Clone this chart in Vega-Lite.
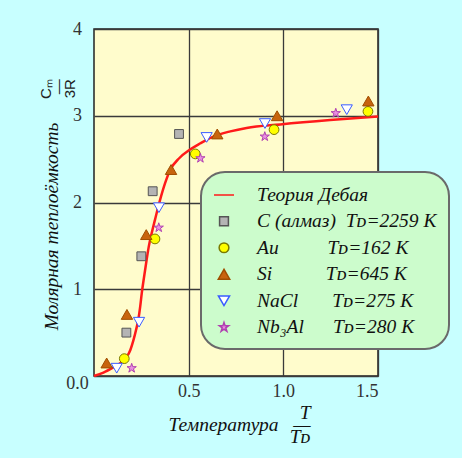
{
  "$schema": "https://vega.github.io/schema/vega-lite/v6.json",
  "autosize": {"type": "none"},
  "width": 284,
  "height": 347,
  "padding": {"left": 94, "top": 29, "right": 84, "bottom": 82},
  "background": "#c8ffff",
  "title": {
    "text": ["Cₘ", "—", "3R"],
    "orient": "top",
    "anchor": "start",
    "frame": "group",
    "angle": 270,
    "align": "right",
    "baseline": "middle",
    "font": "Liberation Sans, Arial, sans-serif",
    "fontSize": 15,
    "fontWeight": "normal",
    "lineHeight": 12,
    "offset": 0,
    "dx": -79,
    "dy": -48,
    "color": "#222222"
  },
  "config": {
    "view": {"fill": "#fffccc", "stroke": "#222222", "strokeWidth": 1.5},
    "axis": {
      "grid": true,
      "gridColor": "#3a3a3a",
      "gridWidth": 1.3,
      "gridOpacity": 1,
      "ticks": false,
      "domain": false,
      "labelFont": "Liberation Serif, Times New Roman, serif",
      "labelFontSize": 18,
      "labelColor": "#333333",
      "titleFont": "Liberation Serif, Times New Roman, serif",
      "titleFontSize": 19.5,
      "titleFontStyle": "italic",
      "titleFontWeight": "normal",
      "titleColor": "#111111"
    },
    "legend": {
      "orient": "none",
      "legendX": 107,
      "legendY": 143,
      "title": null,
      "fillColor": "#ccfccc",
      "strokeColor": "#6a6a6a",
      "strokeWidth": 2,
      "cornerRadius": 24,
      "padding": 12,
      "labelFont": "Liberation Serif, Times New Roman, serif",
      "labelFontStyle": "italic",
      "labelFontSize": 19.5,
      "labelColor": "#111111",
      "labelOffset": 22,
      "labelLimit": 400,
      "rowPadding": 5.5
    }
  },
  "datasets": {
    "curve": [
      {"x": 0, "y": 0, "series": "Теория Дебая"},
      {"x": 0.05, "y": 0.04, "series": "Теория Дебая"},
      {"x": 0.102, "y": 0.1, "series": "Теория Дебая"},
      {"x": 0.14, "y": 0.15, "series": "Теория Дебая"},
      {"x": 0.173, "y": 0.22, "series": "Теория Дебая"},
      {"x": 0.192, "y": 0.3, "series": "Теория Дебая"},
      {"x": 0.208, "y": 0.41, "series": "Теория Дебая"},
      {"x": 0.222, "y": 0.53, "series": "Теория Дебая"},
      {"x": 0.234, "y": 0.65, "series": "Теория Дебая"},
      {"x": 0.244, "y": 0.8, "series": "Теория Дебая"},
      {"x": 0.252, "y": 0.95, "series": "Теория Дебая"},
      {"x": 0.265, "y": 1.15, "series": "Теория Дебая"},
      {"x": 0.278, "y": 1.34, "series": "Теория Дебая"},
      {"x": 0.29, "y": 1.5, "series": "Теория Дебая"},
      {"x": 0.305, "y": 1.65, "series": "Теория Дебая"},
      {"x": 0.322, "y": 1.8, "series": "Теория Дебая"},
      {"x": 0.349, "y": 2.03, "series": "Теория Дебая"},
      {"x": 0.375, "y": 2.22, "series": "Теория Дебая"},
      {"x": 0.401, "y": 2.37, "series": "Теория Дебая"},
      {"x": 0.45, "y": 2.51, "series": "Теория Дебая"},
      {"x": 0.507, "y": 2.61, "series": "Теория Дебая"},
      {"x": 0.56, "y": 2.68, "series": "Теория Дебая"},
      {"x": 0.63, "y": 2.76, "series": "Теория Дебая"},
      {"x": 0.72, "y": 2.82, "series": "Теория Дебая"},
      {"x": 0.806, "y": 2.86, "series": "Теория Дебая"},
      {"x": 0.983, "y": 2.9, "series": "Теория Дебая"},
      {"x": 1.247, "y": 2.95, "series": "Теория Дебая"},
      {"x": 1.5, "y": 2.99, "series": "Теория Дебая"}
    ],
    "points": [
      {"x": 0.449, "y": 2.79, "series": "C (алмаз)\u00a0\u00a0Tᴅ=2259 K\u00a0\u00a0\u00a0\u00a0\u00a0"},
      {"x": 0.31, "y": 2.13, "series": "C (алмаз)\u00a0\u00a0Tᴅ=2259 K\u00a0\u00a0\u00a0\u00a0\u00a0"},
      {"x": 0.25, "y": 1.38, "series": "C (алмаз)\u00a0\u00a0Tᴅ=2259 K\u00a0\u00a0\u00a0\u00a0\u00a0"},
      {"x": 0.171, "y": 0.5, "series": "C (алмаз)\u00a0\u00a0Tᴅ=2259 K\u00a0\u00a0\u00a0\u00a0\u00a0"},
      {"x": 0.16, "y": 0.2, "series": "Au\u00a0\u00a0\u00a0\u00a0\u00a0\u00a0\u00a0\u00a0\u00a0\u00a0Tᴅ=162 K"},
      {"x": 0.322, "y": 1.58, "series": "Au\u00a0\u00a0\u00a0\u00a0\u00a0\u00a0\u00a0\u00a0\u00a0\u00a0Tᴅ=162 K"},
      {"x": 0.535, "y": 2.56, "series": "Au\u00a0\u00a0\u00a0\u00a0\u00a0\u00a0\u00a0\u00a0\u00a0\u00a0Tᴅ=162 K"},
      {"x": 0.951, "y": 2.84, "series": "Au\u00a0\u00a0\u00a0\u00a0\u00a0\u00a0\u00a0\u00a0\u00a0\u00a0Tᴅ=162 K"},
      {"x": 1.447, "y": 3.05, "series": "Au\u00a0\u00a0\u00a0\u00a0\u00a0\u00a0\u00a0\u00a0\u00a0\u00a0Tᴅ=162 K"},
      {"x": 0.067, "y": 0.15, "series": "Si\u00a0\u00a0\u00a0\u00a0\u00a0\u00a0\u00a0\u00a0\u00a0\u00a0\u00a0Tᴅ=645 K"},
      {"x": 0.174, "y": 0.71, "series": "Si\u00a0\u00a0\u00a0\u00a0\u00a0\u00a0\u00a0\u00a0\u00a0\u00a0\u00a0Tᴅ=645 K"},
      {"x": 0.276, "y": 1.63, "series": "Si\u00a0\u00a0\u00a0\u00a0\u00a0\u00a0\u00a0\u00a0\u00a0\u00a0\u00a0Tᴅ=645 K"},
      {"x": 0.407, "y": 2.38, "series": "Si\u00a0\u00a0\u00a0\u00a0\u00a0\u00a0\u00a0\u00a0\u00a0\u00a0\u00a0Tᴅ=645 K"},
      {"x": 0.651, "y": 2.79, "series": "Si\u00a0\u00a0\u00a0\u00a0\u00a0\u00a0\u00a0\u00a0\u00a0\u00a0\u00a0Tᴅ=645 K"},
      {"x": 0.967, "y": 3.0, "series": "Si\u00a0\u00a0\u00a0\u00a0\u00a0\u00a0\u00a0\u00a0\u00a0\u00a0\u00a0Tᴅ=645 K"},
      {"x": 1.449, "y": 3.17, "series": "Si\u00a0\u00a0\u00a0\u00a0\u00a0\u00a0\u00a0\u00a0\u00a0\u00a0\u00a0Tᴅ=645 K"},
      {"x": 0.12, "y": 0.09, "series": "NaCl\u00a0\u00a0\u00a0\u00a0\u00a0\u00a0\u00a0Tᴅ=275 K"},
      {"x": 0.238, "y": 0.62, "series": "NaCl\u00a0\u00a0\u00a0\u00a0\u00a0\u00a0\u00a0Tᴅ=275 K"},
      {"x": 0.343, "y": 1.94, "series": "NaCl\u00a0\u00a0\u00a0\u00a0\u00a0\u00a0\u00a0Tᴅ=275 K"},
      {"x": 0.595, "y": 2.75, "series": "NaCl\u00a0\u00a0\u00a0\u00a0\u00a0\u00a0\u00a0Tᴅ=275 K"},
      {"x": 0.903, "y": 2.91, "series": "NaCl\u00a0\u00a0\u00a0\u00a0\u00a0\u00a0\u00a0Tᴅ=275 K"},
      {"x": 1.335, "y": 3.07, "series": "NaCl\u00a0\u00a0\u00a0\u00a0\u00a0\u00a0\u00a0Tᴅ=275 K"},
      {"x": 0.199, "y": 0.09, "series": "Nb₃Al\u00a0\u00a0\u00a0\u00a0\u00a0\u00a0Tᴅ=280 K"},
      {"x": 0.342, "y": 1.71, "series": "Nb₃Al\u00a0\u00a0\u00a0\u00a0\u00a0\u00a0Tᴅ=280 K"},
      {"x": 0.562, "y": 2.51, "series": "Nb₃Al\u00a0\u00a0\u00a0\u00a0\u00a0\u00a0Tᴅ=280 K"},
      {"x": 0.902, "y": 2.76, "series": "Nb₃Al\u00a0\u00a0\u00a0\u00a0\u00a0\u00a0Tᴅ=280 K"},
      {"x": 1.277, "y": 3.03, "series": "Nb₃Al\u00a0\u00a0\u00a0\u00a0\u00a0\u00a0Tᴅ=280 K"}
    ]
  },
  "encoding": {
    "x": {
      "field": "x",
      "type": "quantitative",
      "scale": {"domain": [0, 1.5], "nice": false, "zero": true},
      "axis": {
        "values": [0.5, 1, 1.5],
        "format": ".1f",
        "labelPadding": 6,
        "title": ["T\u00a0\u00a0", "Температура\u00a0\u00a0\u00a0—", "Tᴅ"],
        "titleAlign": "right",
        "titleAnchor": null,
        "titleBaseline": "middle",
        "titleLineHeight": 12,
        "titleX": 216,
        "titleY": 36,
        "titleAngle": 0
      }
    },
    "y": {
      "field": "y",
      "type": "quantitative",
      "scale": {"domain": [0, 4], "nice": false},
      "axis": {
        "values": [0, 1, 2, 3, 4],
        "labelExpr": "datum.value == 0 ? '0.0' : format(datum.value, 'd')",
        "labelAlign": "center",
        "labelBaseline": "middle",
        "labelPadding": 17,
        "labelOffset": {"condition": {"test": "datum.value == 0", "value": 7}, "value": 0},
        "title": "Молярная теплоёмкость",
        "titleAngle": 270,
        "titleAlign": "center",
        "titleAnchor": null,
        "titleBaseline": "middle",
        "titleX": -43,
        "titleY": 197
      }
    }
  },
  "layer": [
    {
      "data": {"name": "curve"},
      "mark": {"type": "line", "interpolate": "monotone", "strokeWidth": 2.5},
      "encoding": {
        "stroke": {
          "field": "series",
          "type": "nominal",
          "scale": {
            "domain": ["Теория Дебая", "C (алмаз)\u00a0\u00a0Tᴅ=2259 K\u00a0\u00a0\u00a0\u00a0\u00a0", "Au\u00a0\u00a0\u00a0\u00a0\u00a0\u00a0\u00a0\u00a0\u00a0\u00a0Tᴅ=162 K", "Si\u00a0\u00a0\u00a0\u00a0\u00a0\u00a0\u00a0\u00a0\u00a0\u00a0\u00a0Tᴅ=645 K", "NaCl\u00a0\u00a0\u00a0\u00a0\u00a0\u00a0\u00a0Tᴅ=275 K", "Nb₃Al\u00a0\u00a0\u00a0\u00a0\u00a0\u00a0Tᴅ=280 K"],
            "range": ["#ff1a1a", "#555555", "#7a7a00", "#a04e00", "#3a5cff", "#b040b0"]
          }
        }
      }
    },
    {
      "data": {"name": "points"},
      "mark": {"type": "point", "filled": true, "opacity": 1, "strokeWidth": 1},
      "encoding": {
        "stroke": {"field": "series", "type": "nominal"},
        "fill": {
          "field": "series",
          "type": "nominal",
          "scale": {
            "domain": ["Теория Дебая", "C (алмаз)\u00a0\u00a0Tᴅ=2259 K\u00a0\u00a0\u00a0\u00a0\u00a0", "Au\u00a0\u00a0\u00a0\u00a0\u00a0\u00a0\u00a0\u00a0\u00a0\u00a0Tᴅ=162 K", "Si\u00a0\u00a0\u00a0\u00a0\u00a0\u00a0\u00a0\u00a0\u00a0\u00a0\u00a0Tᴅ=645 K", "NaCl\u00a0\u00a0\u00a0\u00a0\u00a0\u00a0\u00a0Tᴅ=275 K", "Nb₃Al\u00a0\u00a0\u00a0\u00a0\u00a0\u00a0Tᴅ=280 K"],
            "range": ["#ff1a1a", "#b4b4b4", "#ffff00", "#c8640e", "#ffffff", "#ea90e2"]
          }
        },
        "shape": {
          "field": "series",
          "type": "nominal",
          "scale": {
            "domain": ["Теория Дебая", "C (алмаз)\u00a0\u00a0Tᴅ=2259 K\u00a0\u00a0\u00a0\u00a0\u00a0", "Au\u00a0\u00a0\u00a0\u00a0\u00a0\u00a0\u00a0\u00a0\u00a0\u00a0Tᴅ=162 K", "Si\u00a0\u00a0\u00a0\u00a0\u00a0\u00a0\u00a0\u00a0\u00a0\u00a0\u00a0Tᴅ=645 K", "NaCl\u00a0\u00a0\u00a0\u00a0\u00a0\u00a0\u00a0Tᴅ=275 K", "Nb₃Al\u00a0\u00a0\u00a0\u00a0\u00a0\u00a0Tᴅ=280 K"],
            "range": ["stroke", "square", "circle", "triangle-up", "triangle-down", "M0,-1L0.2245,-0.309L0.951,-0.309L0.3633,0.118L0.5878,0.809L0,0.382L-0.5878,0.809L-0.3633,0.118L-0.951,-0.309L-0.2245,-0.309Z"]
          }
        },
        "size": {
          "field": "series",
          "type": "nominal",
          "scale": {
            "type": "ordinal",
            "domain": ["Теория Дебая", "C (алмаз)\u00a0\u00a0Tᴅ=2259 K\u00a0\u00a0\u00a0\u00a0\u00a0", "Au\u00a0\u00a0\u00a0\u00a0\u00a0\u00a0\u00a0\u00a0\u00a0\u00a0Tᴅ=162 K", "Si\u00a0\u00a0\u00a0\u00a0\u00a0\u00a0\u00a0\u00a0\u00a0\u00a0\u00a0Tᴅ=645 K", "NaCl\u00a0\u00a0\u00a0\u00a0\u00a0\u00a0\u00a0Tᴅ=275 K", "Nb₃Al\u00a0\u00a0\u00a0\u00a0\u00a0\u00a0Tᴅ=280 K"],
            "range": [400, 78, 95, 130, 125, 95]
          }
        }
      }
    }
  ]
}
